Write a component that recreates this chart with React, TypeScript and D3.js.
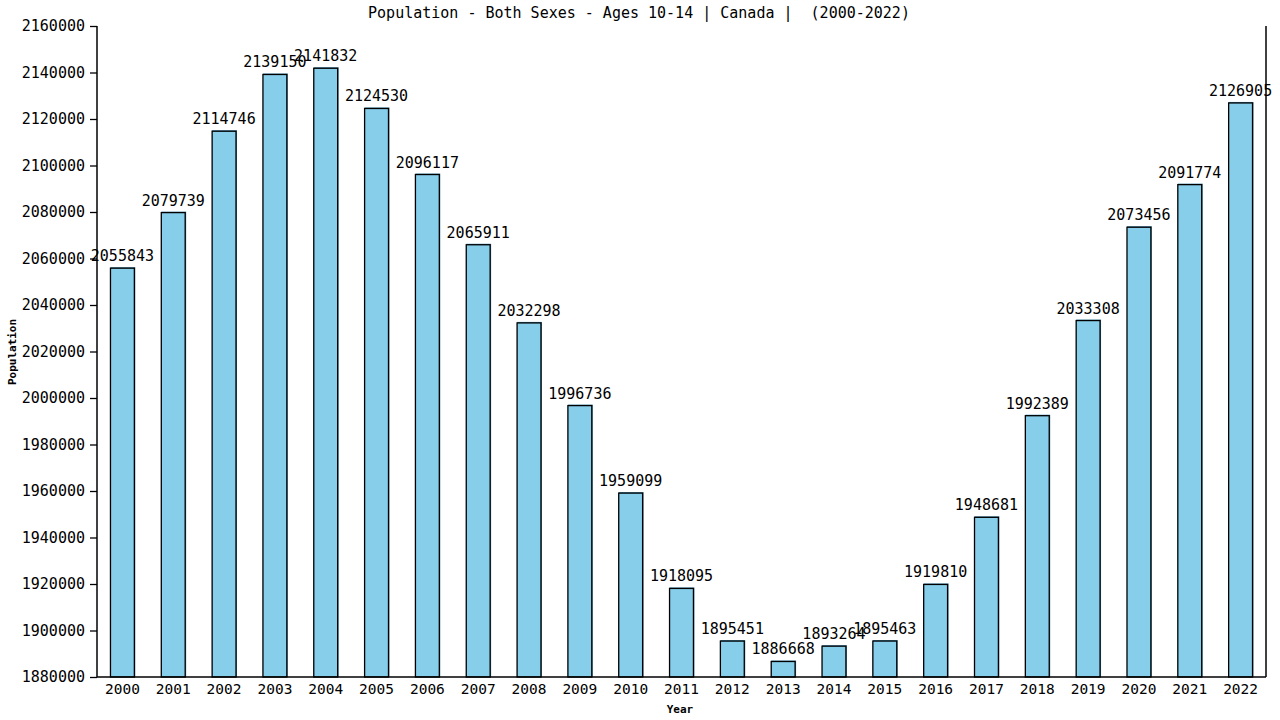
import { useEffect, useRef } from 'react';
import * as d3 from 'd3';

const years = [
  '2000', '2001', '2002', '2003', '2004', '2005', '2006', '2007', '2008', '2009', '2010', '2011',
  '2012', '2013', '2014', '2015', '2016', '2017', '2018', '2019', '2020', '2021', '2022',
];
const population = [
  2055843, 2079739, 2114746, 2139150, 2141832, 2124530, 2096117, 2065911, 2032298, 1996736,
  1959099, 1918095, 1895451, 1886668, 1893264, 1895463, 1919810, 1948681, 1992389, 2033308,
  2073456, 2091774, 2126905,
];
const yTicks = [
  1880000, 1900000, 1920000, 1940000, 1960000, 1980000, 2000000, 2020000, 2040000, 2060000,
  2080000, 2100000, 2120000, 2140000, 2160000,
];

const FONT = '"DejaVu Sans Mono", monospace';

export default function App() {
  const svgRef = useRef<SVGSVGElement>(null);

  useEffect(() => {
    if (!svgRef.current) return;
    const width = 1280;
    const height = 720;
    const margin = { top: 26, right: 14, bottom: 43, left: 97 };
    const innerWidth = width - margin.left - margin.right;
    const innerHeight = height - margin.top - margin.bottom;

    const svg = d3.select(svgRef.current);
    svg.selectAll('*').remove();
    svg.attr('width', width).attr('height', height);

    svg.append('rect').attr('width', width).attr('height', height).attr('fill', '#fff');

    const g = svg.append('g').attr('transform', `translate(${margin.left},${margin.top})`);

    const xScale = d3
      .scaleBand<string>()
      .domain(years)
      .range([0, innerWidth])
      .paddingInner(0.53)
      .paddingOuter(0.265);

    const yScale = d3.scaleLinear().domain([1880000, 2160000]).range([innerHeight, 0]);

    const data = years.map((y, i) => ({ year: y, value: population[i] }));

    // bars: darker shadow first, then the outlined fill
    const bars = g.selectAll('g.bar').data(data).enter().append('g').attr('class', 'bar');
    bars
      .append('rect')
      .attr('x', (d) => xScale(d.year)!)
      .attr('y', (d) => yScale(d.value) - 1)
      .attr('width', xScale.bandwidth() + 1)
      .attr('height', (d) => innerHeight - yScale(d.value) + 1)
      .attr('fill', '#4a90b0');
    bars
      .append('rect')
      .attr('x', (d) => xScale(d.year)!)
      .attr('y', (d) => yScale(d.value))
      .attr('width', xScale.bandwidth())
      .attr('height', (d) => innerHeight - yScale(d.value))
      .attr('fill', '#87ceeb')
      .attr('stroke', '#000')
      .attr('stroke-width', 1.3);

    bars
      .append('text')
      .attr('x', (d) => xScale(d.year)! + xScale.bandwidth() / 2)
      .attr('y', (d) => yScale(d.value) - 7)
      .attr('text-anchor', 'middle')
      .attr('font-family', FONT)
      .attr('font-size', '15px')
      .attr('fill', '#000')
      .text((d) => String(d.value));

    // y axis
    const yAxis = g
      .append('g')
      .call(d3.axisLeft(yScale).tickValues(yTicks).tickSize(7).tickPadding(5).tickFormat((d) => String(d)));
    yAxis.select('.domain').attr('stroke', '#000').attr('stroke-width', 1.5).attr('d', `M0,0V${innerHeight}`);
    yAxis.selectAll('line').attr('stroke', '#000').attr('stroke-width', 1.3);
    yAxis
      .selectAll('text')
      .attr('fill', '#000')
      .style('font-family', FONT)
      .style('font-size', '15px');

    // x axis
    const xAxis = g
      .append('g')
      .attr('transform', `translate(0,${innerHeight})`)
      .call(d3.axisBottom(xScale).tickSize(0).tickPadding(7));
    xAxis.select('.domain').attr('stroke', '#000').attr('stroke-width', 1.5).attr('d', `M0,0H${innerWidth}`);
    xAxis
      .selectAll('text')
      .attr('fill', '#000')
      .style('font-family', FONT)
      .style('font-size', '14.5px');

    // right border
    g.append('line')
      .attr('x1', innerWidth)
      .attr('x2', innerWidth)
      .attr('y1', 0)
      .attr('y2', innerHeight)
      .attr('stroke', '#000')
      .attr('stroke-width', 1.5);

    svg
      .append('text')
      .attr('x', 639)
      .attr('y', 18)
      .attr('text-anchor', 'middle')
      .attr('font-family', FONT)
      .attr('font-size', '15px')
      .attr('fill', '#000')
      .style('white-space', 'pre')
      .text('Population - Both Sexes - Ages 10-14 | Canada |  (2000-2022)');

    svg
      .append('text')
      .attr('x', 680)
      .attr('y', 713)
      .attr('text-anchor', 'middle')
      .attr('font-family', FONT)
      .attr('font-weight', 'bold')
      .attr('font-size', '11px')
      .attr('fill', '#000')
      .text('Year');

    svg
      .append('text')
      .attr('transform', 'translate(16,352) rotate(-90)')
      .attr('text-anchor', 'middle')
      .attr('font-family', FONT)
      .attr('font-weight', 'bold')
      .attr('font-size', '11px')
      .attr('fill', '#000')
      .text('Population');
  }, []);

  return (
    <div style={{ position: 'absolute', left: 0, top: 0 }}>
      <svg ref={svgRef} style={{ display: 'block' }} />
    </div>
  );
}
